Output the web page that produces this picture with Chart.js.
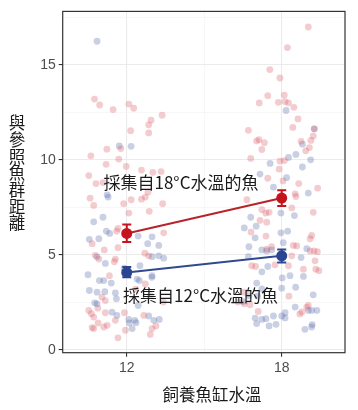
<!DOCTYPE html>
<html>
<head>
<meta charset="utf-8">
<script src="https://cdn.jsdelivr.net/npm/chart.js@4.4.1/dist/chart.umd.min.js"></script>
<style>
  html, body { margin: 0; padding: 0; background: #ffffff; }
  #wrap { width: 358px; height: 410px; }
</style>
</head>
<body>
<div id="wrap"><canvas id="c" width="358" height="410"></canvas></div>
<script>
// ---------- DATA ----------
const tankTemps = [12, 18];                    // categories on x axis
const xTickValues = [12, 15, 18];              // 15 = minor grid line
const xTickLabels = ['12', '', '18'];
const yTickValues = [0, 2.5, 5, 7.5, 10, 12.5, 15, 17.5];
const yTickLabels = ['0', '', '5', '', '10', '', '15', ''];

// means and error bars
const redMean = [6.13, 7.99];
const redLow  = [5.68, 7.57];
const redHigh = [6.60, 8.40];
const blueMean = [4.08, 4.95];
const blueLow  = [3.82, 4.60];
const blueHigh = [4.37, 5.28];

const redLabel  = '採集自18°C水溫的魚';
const blueLabel = '採集自12°C水溫的魚';
const redLabelPos  = [14.10, 8.80];
const blueLabelPos = [14.86, 2.86];

const xTitle = '飼養魚缸水溫';
const yTitle = '與參照魚群距離';

// jittered individual fish [x, y]
const redFish = [
 [10.75,13.19],[10.95,12.88],[11.47,12.64],[12.08,12.93],[12.27,12.71],[13.37,12.34],[12.94,12.08],[12.85,11.84],
 [12.15,11.53],[12.85,11.41],[11.77,10.59],[11.23,10.56],[10.61,10.21],[11.69,10.04],[11.2,9.76],[11.98,9.65],
 [12.57,9.46],[13.01,9.34],[13.33,9.38],[10.53,9.17],[10.81,8.75],[11.08,8.8],[12.17,7.9],[12.57,7.93],[12.72,8.04],
 [12.82,8.3],[10.58,7.98],[11.88,7.69],[10.72,7.6],[13.39,7.69],[12.08,7.2],[12.87,7.29],[11.66,6.39],[11.61,6.25],
 [10.66,5.59],[11.13,5.26],[13.43,6.16],[12.7,5.09],[12.85,4.95],[10.78,4.98],[10.92,4.78],[11.56,4.78],[11.52,4.64],
 [11.33,3.91],[12.72,3.47],[11.04,2.78],[11.17,2.6],[12.91,2.86],[10.88,2.2],[10.53,2.08],[10.63,1.91],[10.72,1.73],
 [10.89,1.42],[10.66,1.18],[10.72,1.13],[11.17,1.96],[11.91,1.96],[11.56,1.56],[11.11,1.21],[11.24,1.3],[11.95,1.04],
 [12.98,1.13],[12.91,0.82],[12.66,1.82],[13.13,1.27],[11.66,0.64],[13.42,2.52],[11.66,5.38],[12.35,3.2],
 [19.03,16.98],[18.22,15.9],[17.54,14.74],[17.93,14.3],[17.46,13.37],[18.1,13.4],[17.13,12.99],[17.87,13.02],
 [18.13,13.06],[18.26,12.99],[18.47,12.76],[18.63,12.15],[18.43,11.7],[16.71,11.55],[19.26,11.63],[19.22,11.25],
 [19.13,11.02],[17.03,10.99],[17.12,11.06],[17.33,10.9],[17.23,10.54],[18.75,10.97],[19.07,10.64],[18.93,10.47],
 [18.1,9.96],[17.93,9.93],[16.8,10.07],[17.9,9.51],[18.05,8.89],[17.46,9.03],[18.66,8.75],[19.39,8.51],[18.52,8.21],
 [18.55,8.07],[16.65,7.9],[18.39,7.47],[17.23,7.38],[17.51,7.24],[17.38,7.2],[19.22,7.24],[17.16,6.82],[17.42,6.72],
 [16.81,6.2],[17.39,5.99],[19.16,6.02],[19.1,5.85],[18.45,5.5],[18.58,5.47],[17.61,5.43],[17.42,5.3],[19.1,5.21],
 [19.25,5.21],[19.38,5.17],[18.39,4.95],[16.84,4.43],[16.99,4.39],[18.26,4.43],[18.84,4.25],[19.44,4.17],[19.32,4.25],
 [19.29,4.69],[17.74,4.48],[16.55,3.04],[18.28,2.83],[16.3,2.52],[16.55,2.43],[16.77,2.38],[17.09,2.03],[18.97,2.26],
 [18.78,2.0],[18.7,1.9],[19.03,2.34]
];
const blueFish = [
 [10.85,16.23],[11.71,10.73],[12.17,10.71],[11.24,8.16],[11.28,8.04],[10.72,6.74],[11.08,6.98],[11.21,6.25],
 [11.34,6.13],[10.55,5.82],[10.92,5.85],[12.44,5.99],[12.98,5.95],[13.24,5.5],[12.81,5.59],[12.98,4.91],[13.24,4.95],
 [13.43,4.83],[10.85,4.9],[11.17,4.55],[10.5,3.96],[10.94,3.65],[11.11,3.65],[11.4,3.52],[12.4,3.73],[12.49,3.65],
 [12.98,3.91],[10.55,3.13],[10.85,3.04],[11.15,3.07],[11.56,3.0],[11.6,2.69],[12.44,2.34],[10.85,2.43],[10.76,2.48],
 [11.43,1.99],[11.62,1.82],[12.08,1.61],[12.31,1.56],[12.1,1.42],[12.21,1.13],[12.85,1.79],[13.05,1.56],[13.26,1.61],
 [12.36,1.44],[12.51,4.43],[12.97,3.82],[11.9,4.3],
 [18.17,12.59],[19.26,11.63],[18.8,10.82],[18.55,10.28],[18.26,10.12],[19.12,10.0],[17.55,9.81],[18.8,9.62],
 [17.16,9.25],[18.19,9.06],[17.68,8.56],[19.03,8.25],[17.97,7.2],[18.49,7.07],[16.8,6.98],[17.01,6.51],[16.55,6.42],
 [17.97,6.16],[18.23,6.25],[16.97,5.9],[18.06,5.64],[16.73,5.43],[17.23,5.26],[17.42,5.21],[17.61,5.26],[18.97,5.33],
 [16.71,4.91],[18.75,4.86],[17.46,4.39],[17.23,4.11],[18.84,3.87],[18.32,3.91],[18.02,3.79],[18.54,3.3],[18.0,3.25],
 [17.03,3.52],[17.23,3.21],[19.22,2.9],[16.73,2.86],[17.07,2.83],[19.03,2.08],[16.5,2.55],[18.52,2.26],[19.16,2.08],
 [19.36,2.08],[18.13,1.96],[18.0,1.79],[17.68,1.79],[18.13,1.69],[16.97,1.68],[17.23,1.61],[17.39,1.65],[17.03,1.39],
 [17.51,1.27],[17.78,1.35],[18.9,1.09],[19.18,1.34],[19.16,1.21]
];

// ---------- STYLE ----------
const RED = '#c4141c';
const RED_LINE = '#b8232a';
const BLUE = '#2b4591';
const BLUE_LINE = '#2f4a8f';
const RED_PT = 'rgba(215,85,95,0.30)';
const BLUE_PT = 'rgba(80,100,165,0.30)';
const CJK = '"Noto Sans CJK TC", "Noto Sans CJK SC", sans-serif';

const toXY = arr => arr.map(p => ({ x: p[0], y: p[1] }));
const meanXY = m => tankTemps.map((t, i) => ({ x: t, y: m[i] }));

const errorBars = {
  2: { low: redLow, high: redHigh, color: RED },
  3: { low: blueLow, high: blueHigh, color: BLUE }
};

const decorPlugin = {
  id: 'decor',
  beforeDatasetDraw(chart, args) {
    const eb = errorBars[args.index];
    if (!eb) return;
    const { ctx, scales: { x, y } } = chart;
    ctx.save();
    ctx.strokeStyle = eb.color;
    ctx.lineWidth = 2;
    tankTemps.forEach((t, i) => {
      const px = x.getPixelForValue(t);
      const y1 = y.getPixelForValue(eb.low[i]);
      const y2 = y.getPixelForValue(eb.high[i]);
      ctx.beginPath();
      ctx.moveTo(px, y1); ctx.lineTo(px, y2);
      ctx.moveTo(px - 4.5, y1); ctx.lineTo(px + 4.5, y1);
      ctx.moveTo(px - 4.5, y2); ctx.lineTo(px + 4.5, y2);
      ctx.stroke();
    });
    ctx.restore();
  },
  afterDraw(chart) {
    const { ctx, chartArea: a, scales: { x, y } } = chart;
    ctx.save();
    // panel border
    ctx.strokeStyle = '#333333';
    ctx.lineWidth = 1.2;
    ctx.strokeRect(a.left, a.top, a.right - a.left, a.bottom - a.top);
    // annotations
    ctx.fillStyle = '#1a1a1a';
    ctx.font = '17px ' + CJK;
    ctx.textAlign = 'center';
    ctx.textBaseline = 'middle';
    ctx.fillText(redLabel, x.getPixelForValue(redLabelPos[0]), y.getPixelForValue(redLabelPos[1]));
    ctx.fillText(blueLabel, x.getPixelForValue(blueLabelPos[0]), y.getPixelForValue(blueLabelPos[1]));
    // axis titles
    ctx.font = '16.5px ' + CJK;
    ctx.fillText(xTitle, 212, 395);
    const chars = Array.from(yTitle);
    chars.forEach((ch, i) => ctx.fillText(ch, 17, 123 + i * 16.7));
    ctx.restore();
  }
};

const isMajor = (vals, labels, v) => {
  const i = vals.indexOf(v);
  return i >= 0 && labels[i] !== '';
};

new Chart(document.getElementById('c'), {
  type: 'scatter',
  data: {
    datasets: [
      { data: toXY(blueFish), backgroundColor: BLUE_PT, borderWidth: 0, pointRadius: 3.4, order: 4 },
      { data: toXY(redFish), backgroundColor: RED_PT, borderWidth: 0, pointRadius: 3.4, order: 3 },
      { type: 'line', data: meanXY(redMean), borderColor: RED_LINE, borderWidth: 2, backgroundColor: RED,
        pointBackgroundColor: RED, pointBorderWidth: 0, pointRadius: 5.5, showLine: true, order: 2 },
      { type: 'line', data: meanXY(blueMean), borderColor: BLUE_LINE, borderWidth: 2, backgroundColor: BLUE,
        pointBackgroundColor: BLUE, pointBorderWidth: 0, pointRadius: 5.5, showLine: true, order: 1 }
    ]
  },
  options: {
    responsive: false,
    devicePixelRatio: 1,
    animation: false,
    layout: { padding: { top: 8, right: 13, left: 0, bottom: 0 } },
    plugins: { legend: { display: false }, tooltip: { enabled: false } },
    scales: {
      x: {
        type: 'linear', min: 9.52, max: 20.45,
        afterBuildTicks: s => { s.ticks = xTickValues.map(v => ({ value: v })); },
        afterFit: s => { s.height = 57.3; },
        ticks: {
          autoSkip: false, maxRotation: 0, padding: 3,
          color: '#4d4d4d', font: { family: 'Liberation Sans', size: 14 },
          callback: v => xTickLabels[xTickValues.indexOf(v)] ?? ''
        },
        border: { display: false },
        grid: {
          color: c => isMajor(xTickValues, xTickLabels, c.tick && c.tick.value) ? '#ebebeb' : '#f3f3f3',
          lineWidth: c => isMajor(xTickValues, xTickLabels, c.tick && c.tick.value) ? 1.1 : 0.7,
          tickColor: c => isMajor(xTickValues, xTickLabels, c.tick && c.tick.value) ? '#333333' : 'rgba(0,0,0,0)',
          tickLength: 4, tickWidth: 1.1
        }
      },
      y: {
        type: 'linear', min: -0.14, max: 17.8,
        afterBuildTicks: s => { s.ticks = yTickValues.map(v => ({ value: v })); },
        afterFit: s => { s.width = 62.7; },
        ticks: {
          autoSkip: false, padding: 3,
          color: '#4d4d4d', font: { family: 'Liberation Sans', size: 14 },
          callback: v => yTickLabels[yTickValues.indexOf(v)] ?? ''
        },
        border: { display: false },
        grid: {
          color: c => isMajor(yTickValues, yTickLabels, c.tick && c.tick.value) ? '#ebebeb' : '#f3f3f3',
          lineWidth: c => isMajor(yTickValues, yTickLabels, c.tick && c.tick.value) ? 1.1 : 0.7,
          tickColor: c => isMajor(yTickValues, yTickLabels, c.tick && c.tick.value) ? '#333333' : 'rgba(0,0,0,0)',
          tickLength: 4, tickWidth: 1.1
        }
      }
    }
  },
  plugins: [decorPlugin]
});
</script>
</body>
</html>
